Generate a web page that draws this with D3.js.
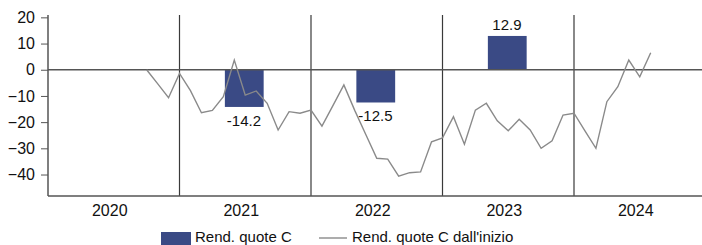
<!DOCTYPE html>
<html>
<head>
<meta charset="utf-8">
<script src="https://cdn.jsdelivr.net/npm/d3@7"></script>
<style>
  body { margin: 0; background: #fff; }
  svg { display: block; font-family: "Liberation Sans", Arial, sans-serif; }
</style>
</head>
<body>
<div id="chart"></div>
<script>
// data
const years = ["2020", "2021", "2022", "2023", "2024"];
const barYears = ["2021", "2022", "2023"];
const barValues = [-14.2, -12.5, 12.9];
const yTicks = [20, 10, 0, -10, -20, -30, -40];
// cumulative line, one point per month (index 0 = start of 2020)
const lineStart = 9;
const lineValues = [
  0, -5.3, -10.7,
  -1.4, -8.0, -16.4, -15.5, -10.3, 3.7, -9.7, -8.1, -12.8, -23.0, -16.0, -16.6,
  -15.4, -21.5, -13.7, -5.8, -15.6, -24.7, -33.8, -34.1, -40.6, -39.3, -39.0, -27.5,
  -26.0, -17.9, -28.4, -15.4, -12.8, -19.5, -23.3, -18.9, -23.0, -30.0, -27.1, -17.3,
  -16.6, -23.3, -30.0, -12.2, -6.5, 3.7, -2.7, 6.5
];
const legendLabels = ["Rend. quote C", "Rend. quote C dall'inizio"];

const width = 702, height = 245;
const mLeft = 48, mRight = 705.5, mTop = 15, mBottom = 196;

const svg = d3.select("#chart").append("svg")
  .attr("width", width)
  .attr("height", height);

const y = d3.scaleLinear().domain([-48.2, 20.9]).range([mBottom, mTop]);
const xYear = d3.scaleBand().domain(years).range([mLeft, mRight]).padding(0);
const xMonth = d3.scaleLinear().domain([0, 60]).range([mLeft, mRight]);

// year separators
svg.append("g")
  .selectAll("line")
  .data(years.slice(1))
  .join("line")
  .attr("x1", d => xYear(d)).attr("x2", d => xYear(d))
  .attr("y1", mTop).attr("y2", mBottom)
  .attr("stroke", "#3a3a3a")
  .attr("stroke-width", 1.2);

// bars
const bw = xYear.bandwidth();
svg.append("g")
  .selectAll("rect")
  .data(barYears.map((d, i) => ({ year: d, v: barValues[i] })))
  .join("rect")
  .attr("x", d => xYear(d.year) + bw * 0.345)
  .attr("width", bw * 0.295)
  .attr("y", d => y(Math.max(0, d.v)))
  .attr("height", d => Math.abs(y(d.v) - y(0)))
  .attr("fill", "#3a4a85");

// zero line
svg.append("line")
  .attr("x1", mLeft).attr("x2", width)
  .attr("y1", y(0)).attr("y2", y(0))
  .attr("stroke", "#555")
  .attr("stroke-width", 1.5);

// cumulative line
const line = d3.line()
  .x((d, i) => xMonth(lineStart + i))
  .y(d => y(d));
svg.append("path")
  .datum(lineValues)
  .attr("d", line)
  .attr("fill", "none")
  .attr("stroke", "#8a8a8a")
  .attr("stroke-width", 1.4);

// bar labels
svg.append("g")
  .selectAll("text")
  .data(barYears.map((d, i) => ({ year: d, v: barValues[i] })))
  .join("text")
  .attr("x", d => xYear(d.year) + bw * 0.49)
  .attr("y", d => d.v < 0 ? y(d.v) + 19 : y(d.v) - 6)
  .attr("text-anchor", "middle")
  .attr("font-size", 15)
  .attr("fill", "#111")
  .text(d => d.v.toFixed(1));

// y axis
const yAxis = svg.append("g")
  .attr("transform", `translate(${mLeft},0)`)
  .call(d3.axisLeft(y).tickValues(yTicks).tickSize(7).tickPadding(6).tickFormat(d3.format("d")));
yAxis.select(".domain").attr("d", `M0,${mTop}V${mBottom}`).attr("stroke", "#555").attr("stroke-width", 1.5);
yAxis.selectAll(".tick line").attr("stroke", "#555");
yAxis.selectAll(".tick text").attr("font-size", 16).attr("fill", "#111").attr("font-family", "Liberation Sans, Arial, sans-serif");

// x axis baseline and year labels
svg.append("line")
  .attr("x1", mLeft).attr("x2", width)
  .attr("y1", mBottom).attr("y2", mBottom)
  .attr("stroke", "#555")
  .attr("stroke-width", 1.5);
svg.append("g")
  .selectAll("text")
  .data(years)
  .join("text")
  .attr("x", d => xYear(d) + bw / 2 - 4)
  .attr("y", 216)
  .attr("text-anchor", "middle")
  .attr("font-size", 16)
  .attr("fill", "#111")
  .text(d => d);

// legend
const lg = svg.append("g").attr("font-size", 15).attr("fill", "#111");
lg.append("rect").attr("x", 161).attr("y", 232).attr("width", 30).attr("height", 14).attr("fill", "#3a4a85");
lg.append("text").attr("x", 195).attr("y", 242).text(legendLabels[0]);
lg.append("line").attr("x1", 319).attr("x2", 347).attr("y1", 238).attr("y2", 238)
  .attr("stroke", "#8a8a8a").attr("stroke-width", 1.4);
lg.append("text").attr("x", 352).attr("y", 242).text(legendLabels[1]);
</script>
</body>
</html>
